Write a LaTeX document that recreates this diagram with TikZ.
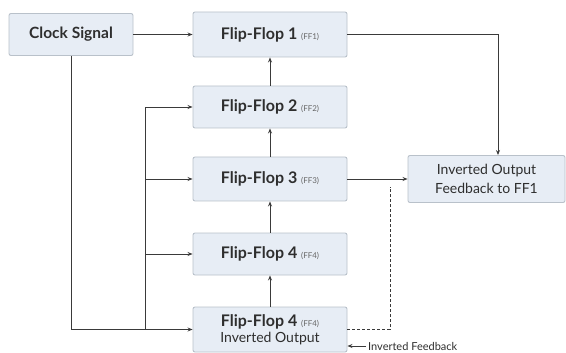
\documentclass[tikz,border=0pt]{standalone}
\usepackage{fontspec}
\setmainfont{Lato}
\usetikzlibrary{arrows.meta,calc}
\definecolor{boxfill}{HTML}{E7EDF5}
\definecolor{boxline}{HTML}{B9C1CA}
\definecolor{linecol}{HTML}{3A3A3A}
\definecolor{txt}{HTML}{2E2E2E}
\tikzset{
  blk/.style={draw=boxline, fill=boxfill, line width=0.9pt, rounded corners=2pt,
    minimum width=154pt, minimum height=44pt, inner sep=0pt, text=txt, align=center},
  conn/.style={draw=linecol, line width=0.9pt, -{Stealth[length=5pt,width=4pt]}},
  plain/.style={draw=linecol, line width=0.9pt},
  dashline/.style={draw=linecol, line width=0.9pt, dashed, dash pattern=on 3pt off 2pt},
  big/.style={font=\fontsize{16}{18}\selectfont\bfseries},
}
\newcommand{\ffsub}[1]{{\fontsize{8}{9}\selectfont\mdseries\color{gray!80!black}(#1)}}
\begin{document}
\begin{tikzpicture}[x=1pt,y=-1pt]
\useasboundingbox (0,0) rectangle (566,353);
\node[blk, minimum width=124pt, minimum height=42pt, font=\fontsize{15.5}{17}\selectfont\bfseries] (clock) at (71,34.5) {Clock Signal};
\node[blk, minimum height=45pt, big] (ff1) at (270,34.5) {Flip-Flop 1 \ffsub{FF1}};
\node[blk, minimum height=42pt, big] (ff2) at (270,107) {Flip-Flop 2 \ffsub{FF2}};
\node[blk, minimum height=44pt, big] (ff3) at (270,179) {Flip-Flop 3 \ffsub{FF3}};
\node[blk, minimum height=42pt, big] (ff4) at (270,254) {Flip-Flop 4 \ffsub{FF4}};
\node[blk, minimum height=45pt] (ff4i) at (270,329.5) {{\fontsize{16}{18}\selectfont\bfseries Flip-Flop 4 \ffsub{FF4}}\\[2pt]{\fontsize{14}{15}\selectfont Inverted Output}};
\node[blk, minimum width=157pt, minimum height=47pt, font=\fontsize{14}{19}\selectfont] (inv) at (486.5,179) {Inverted Output\\Feedback to FF1};

% clock connections
\draw[conn] (clock.east) -- (ff1.west);
\coordinate (bus) at (145,329.5);
\coordinate (bustop) at (145,107);
\draw[conn] (clock.south) |- (ff4i.west);
\draw[plain] (bus) -- (bustop);
\draw[conn] (bustop) -- (ff2.west);
\draw[conn] (bus |- ff3.west) -- (ff3.west);
\draw[conn] (bus |- ff4.west) -- (ff4.west);

% chain upward
\draw[conn] (ff4i.north) -- (ff4.south);
\draw[conn] (ff4.north) -- (ff3.south);
\draw[conn] (ff3.north) -- (ff2.south);
\draw[conn] (ff2.north) -- (ff1.south);

% to inverted output
\coordinate (invtop) at (498,0);
\draw[conn] (ff1.east) -| (invtop |- inv.north);
\draw[conn] (ff3.east) -- (inv.west);

% dashed feedback
\coordinate (dcorner) at (390,329.5);
\coordinate (dend) at (390,187);
\draw[dashline] (ff4i.east) -- (dcorner) -- (dend);

% inverted feedback label
\coordinate (fbstart) at (366,346);
\node[anchor=west, inner sep=0pt, text=txt, font=\fontsize{11}{12}\selectfont] (fblabel) at (368,346) {Inverted Feedback};
\draw[conn] (fbstart) -- (ff4i.east |- fbstart);
\end{tikzpicture}
\end{document}
